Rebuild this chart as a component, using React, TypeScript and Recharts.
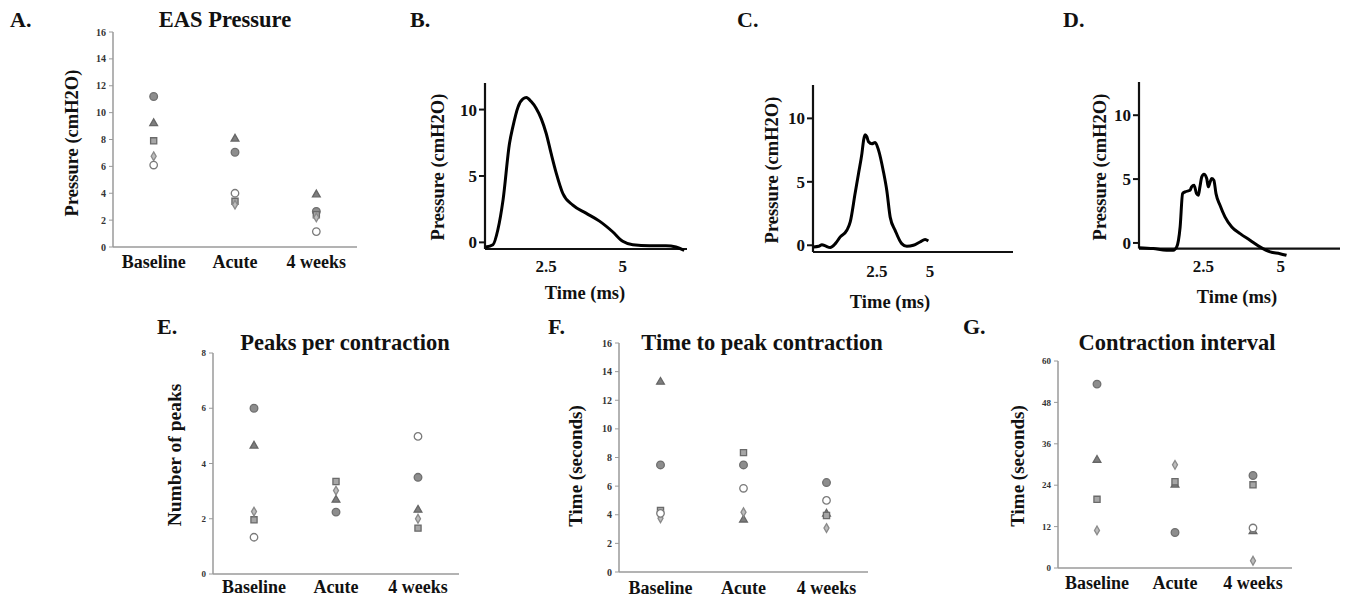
import React from "react";
import {
  ScatterChart, Scatter, LineChart, Line, XAxis, YAxis, ReferenceLine, Symbols,
} from "recharts";

const FONT = '"Liberation Serif", "Times New Roman", serif';

const groups = ["Baseline", "Acute", "4 weeks"];

// A. EAS pressure (cmH2O), one array per subject marker, order Baseline/Acute/4 weeks
const easCircle = [11.2, 7.05, 2.65];
const easTriangle = [9.2, 8.05, 3.9];
const easSquare = [7.9, 3.4, 2.4];
const easDiamond = [6.75, 3.15, 2.2];
const easOpen = [6.1, 4.0, 1.15];

// E. peaks per contraction
const peaksCircle = [6.0, 2.24, 3.5];
const peaksTriangle = [4.64, 2.68, 2.32];
const peaksSquare = [1.96, 3.35, 1.66];
const peaksDiamond = [2.26, 3.02, 2.0];
const peaksOpen = [1.33, null, 4.98];

// F. time to peak contraction (s)
const tpeakCircle = [7.48, 7.48, 6.25];
const tpeakTriangle = [13.28, 3.65, 4.06];
const tpeakSquare = [4.3, 8.34, 3.95];
const tpeakDiamond = [3.75, 4.18, 3.07];
const tpeakOpen = [4.1, 5.85, 5.0];

// G. contraction interval (s)
const intervalCircle = [53.3, 10.3, 26.8];
const intervalTriangle = [31.3, 24.1, 10.6];
const intervalSquare = [19.9, 25.0, 24.1];
const intervalDiamond = [10.9, 29.9, 2.1];
const intervalOpen = [null, null, 11.6];

// B–D. example pressure traces
const bTime = [0.52, 0.76, 0.92, 1.09, 1.3, 1.41, 1.58, 1.74, 1.85, 2.01, 2.17, 2.34, 2.5, 2.66, 2.83, 3.04, 3.37, 3.8, 4.24, 4.67, 5.0, 5.33, 5.87, 6.41, 6.74, 7.01];
const bPressure = [-0.35, -0.18, 0.95, 3.2, 7.45, 8.7, 10.2, 10.8, 10.9, 10.6, 10.1, 9.3, 8.2, 6.7, 5.2, 3.7, 2.8, 2.2, 1.6, 0.8, 0.08, -0.18, -0.25, -0.25, -0.35, -0.6];

const cTime = [-0.47, -0.23, -0.08, 0.08, 0.31, 0.55, 0.78, 1.09, 1.25, 1.48, 1.64, 1.8, 1.88, 1.95, 2.03, 2.11, 2.27, 2.42, 2.58, 2.81, 2.97, 3.13, 3.36, 3.67, 3.91, 4.22, 4.53, 4.77, 4.92];
const cPressure = [-0.13, -0.08, 0.05, -0.05, -0.18, 0.13, 0.66, 1.18, 1.84, 4.1, 5.66, 7.24, 8.3, 8.7, 8.55, 8.16, 8.0, 8.1, 7.5, 5.8, 4.3, 2.2, 1.18, 0.13, -0.08, 0, 0.26, 0.45, 0.34];

const dTime = [0.42, 0.88, 1.31, 1.53, 1.64, 1.75, 1.83, 1.91, 2.07, 2.12, 2.2, 2.28, 2.34, 2.39, 2.45, 2.52, 2.61, 2.66, 2.72, 2.77, 2.84, 2.91, 3.04, 3.2, 3.42, 3.69, 4.01, 4.33, 4.66, 4.98, 5.19];
const dPressure = [-0.37, -0.44, -0.57, -0.57, -0.31, 1.25, 3.86, 4.0, 4.12, 4.39, 4.52, 3.86, 3.73, 4.39, 5.17, 5.38, 5.04, 4.39, 4.78, 5.04, 4.91, 3.86, 2.95, 2.04, 1.25, 0.73, 0.21, -0.31, -0.7, -0.84, -0.97];

const traceTicks = [2.5, 5];
const pressureTicks = [0, 5, 10];

// marker look per subject; size is symbol area in px²
const markers = [
  { type: "circle", fill: "#8d8d8d", stroke: "#6f6f6f", size: 46 },
  { type: "triangle", fill: "#7e7e7e", stroke: "#666666", size: 26 },
  { type: "square", fill: "#a6a6a6", stroke: "#6a6a6a", size: 38 },
  { type: "diamond", fill: "#bdbdbd", stroke: "#8a8a8a", size: 22 },
  { type: "circle", fill: "#ffffff", stroke: "#7a7a7a", size: 44 },
];

const toPoints = (vals: (number | null)[]) =>
  vals.map((y, i) => ({ x: i, y })).filter((p) => p.y != null);

const toTrace = (t: number[], p: number[]) => t.map((x, i) => ({ t: x, p: p[i] }));

function Txt({ x, y, size, children, rotate = false, start = false }: any) {
  return (
    <div
      style={{
        position: "absolute", left: x, top: y,
        transform: `translate(${start ? "0" : "-50%"},-50%)${rotate ? " rotate(-90deg)" : ""}`,
        fontFamily: FONT, fontWeight: 700, fontSize: size, lineHeight: 1,
        whiteSpace: "nowrap", color: "#111",
      }}
    >
      {children}
    </div>
  );
}

function ScatterPanel({ box, domain, ticks, tickFont, catMargin, series }: any) {
  const ML = 60, MT = 6, MR = 6, MB = 34;
  const w = box.x1 - box.x0 + ML + MR;
  const h = box.y1 - box.y0 + MT + MB;
  return (
    <div style={{ position: "absolute", left: box.x0 - ML, top: box.y0 - MT }}>
      <ScatterChart width={w} height={h} margin={{ top: MT, right: MR, bottom: 0, left: 0 }}>
        <XAxis
          type="number" dataKey="x" domain={[-0.5, 2.5]} ticks={[0, 1, 2]} interval={0}
          tickFormatter={(i: number) => groups[i]} height={MB} tickSize={0} tickMargin={catMargin}
          axisLine={{ stroke: "#9a9a9a", strokeWidth: 1.5 }}
          tick={{ fill: "#111", fontSize: 18, fontWeight: 700, fontFamily: FONT }}
        />
        <YAxis
          type="number" dataKey="y" domain={domain} ticks={ticks} interval={0} width={ML}
          tickSize={4} tickMargin={3}
          axisLine={{ stroke: "#9a9a9a", strokeWidth: 1.5 }}
          tickLine={{ stroke: "#9a9a9a" }}
          tick={{ fill: "#333", fontSize: tickFont, fontWeight: 700, fontFamily: FONT }}
        />
        {series.map((vals: (number | null)[], k: number) => {
          const m = markers[k];
          return (
            <Scatter
              key={k} data={toPoints(vals)} isAnimationActive={false}
              shape={(p: any) => (
                <Symbols
                  cx={p.cx} cy={p.cy} type={m.type as any} size={m.size}
                  fill={m.fill} stroke={m.stroke} strokeWidth={1.3}
                />
              )}
            />
          );
        })}
      </ScatterChart>
    </div>
  );
}

function TracePanel({ box, xDomain, yDomain, axisY, data, tickMargin }: any) {
  const ML = 60, MT = 4, MR = 6, MB = 36;
  const w = box.x1 - box.x0 + ML + MR;
  const h = box.y1 - box.y0 + MT + MB;
  return (
    <div style={{ position: "absolute", left: box.x0 - ML, top: box.y0 - MT }}>
      <LineChart width={w} height={h} data={data} margin={{ top: MT, right: MR, bottom: 0, left: 0 }}>
        <XAxis
          type="number" dataKey="t" domain={xDomain} ticks={traceTicks} interval={0}
          height={MB} axisLine={false} tickLine={false} tickSize={0} tickMargin={tickMargin}
          tick={{ fill: "#111", fontSize: 17, fontWeight: 700, fontFamily: FONT }}
        />
        <YAxis
          type="number" domain={yDomain} ticks={pressureTicks} interval={0} width={ML}
          axisLine={false} tickSize={6} tickMargin={2}
          tickLine={{ stroke: "#111", strokeWidth: 2 }}
          tick={{ fill: "#111", fontSize: 17, fontWeight: 700, fontFamily: FONT }}
        />
        <ReferenceLine y={axisY} stroke="#111" strokeWidth={2.2} />
        <ReferenceLine
          segment={[{ x: xDomain[0], y: axisY }, { x: xDomain[0], y: yDomain[1] }]}
          stroke="#111" strokeWidth={2.2}
        />
        <Line
          type="monotone" dataKey="p" stroke="#000" strokeWidth={3} dot={false}
          isAnimationActive={false}
        />
      </LineChart>
    </div>
  );
}

export default function App() {
  return (
    <div style={{ position: "absolute", left: 0, top: 0, width: 1349, height: 602, background: "#fff", overflow: "hidden" }}>
      {/* A */}
      <ScatterPanel
        box={{ x0: 113, x1: 357, y0: 32, y1: 247 }} domain={[0, 16]} ticks={[0, 2, 4, 6, 8, 10, 12, 14, 16]}
        tickFont={10} catMargin={8}
        series={[easCircle, easTriangle, easSquare, easDiamond, easOpen]}
      />
      <Txt x={10} y={20} size={22} start>A.</Txt>
      <Txt x={225} y={20} size={22.5}>EAS Pressure</Txt>
      <Txt x={72} y={143} size={18.5} rotate>Pressure (cmH2O)</Txt>

      {/* B */}
      <TracePanel
        box={{ x0: 485, x1: 687, y0: 83, y1: 253 }} xDomain={[0.5, 7.1]} yDomain={[-0.8, 12]} axisY={-0.5}
        data={toTrace(bTime, bPressure)} tickMargin={7}
      />
      <Txt x={410} y={20} size={22} start>B.</Txt>
      <Txt x={438} y={167} size={18.5} rotate>Pressure (cmH2O)</Txt>
      <Txt x={585} y={293} size={18.5}>Time (ms)</Txt>

      {/* C */}
      <TracePanel
        box={{ x0: 813, x1: 1013, y0: 85, y1: 252 }} xDomain={[-0.5, 8.9]} yDomain={[-0.53, 12.63]} axisY={-0.53}
        data={toTrace(cTime, cPressure)} tickMargin={13}
      />
      <Txt x={737} y={20} size={22} start>C.</Txt>
      <Txt x={772} y={170} size={18.5} rotate>Pressure (cmH2O)</Txt>
      <Txt x={890} y={302} size={18.5}>Time (ms)</Txt>

      {/* D */}
      <TracePanel
        box={{ x0: 1139, x1: 1340, y0: 82, y1: 257 }} xDomain={[0.42, 6.92]} yDomain={[-1.1, 12.6]} axisY={-0.44}
        data={toTrace(dTime, dPressure)} tickMargin={3}
      />
      <Txt x={1063} y={20} size={22} start>D.</Txt>
      <Txt x={1100} y={167} size={18.5} rotate>Pressure (cmH2O)</Txt>
      <Txt x={1237} y={297} size={18.5}>Time (ms)</Txt>

      {/* E */}
      <ScatterPanel
        box={{ x0: 213, x1: 459, y0: 353, y1: 574 }} domain={[0, 8]} ticks={[0, 2, 4, 6, 8]}
        tickFont={9} catMargin={6}
        series={[peaksCircle, peaksTriangle, peaksSquare, peaksDiamond, peaksOpen]}
      />
      <Txt x={157} y={327} size={22} start>E.</Txt>
      <Txt x={345} y={343} size={22.5}>Peaks per contraction</Txt>
      <Txt x={175} y={455} size={19.5} rotate>Number of peaks</Txt>

      {/* F */}
      <ScatterPanel
        box={{ x0: 619, x1: 868, y0: 343, y1: 572 }} domain={[0, 16]} ticks={[0, 2, 4, 6, 8, 10, 12, 14, 16]}
        tickFont={10} catMargin={9}
        series={[tpeakCircle, tpeakTriangle, tpeakSquare, tpeakDiamond, tpeakOpen]}
      />
      <Txt x={548} y={327} size={22} start>F.</Txt>
      <Txt x={762} y={343} size={22.5}>Time to peak contraction</Txt>
      <Txt x={575} y={466} size={19} rotate>Time (seconds)</Txt>

      {/* G */}
      <ScatterPanel
        box={{ x0: 1058, x1: 1292, y0: 361, y1: 568 }} domain={[0, 60]} ticks={[0, 12, 24, 36, 48, 60]}
        tickFont={9} catMargin={8}
        series={[intervalCircle, intervalTriangle, intervalSquare, intervalDiamond, intervalOpen]}
      />
      <Txt x={963} y={327} size={22} start>G.</Txt>
      <Txt x={1177} y={343} size={22.5}>Contraction interval</Txt>
      <Txt x={1017} y={466} size={19} rotate>Time (seconds)</Txt>
    </div>
  );
}
